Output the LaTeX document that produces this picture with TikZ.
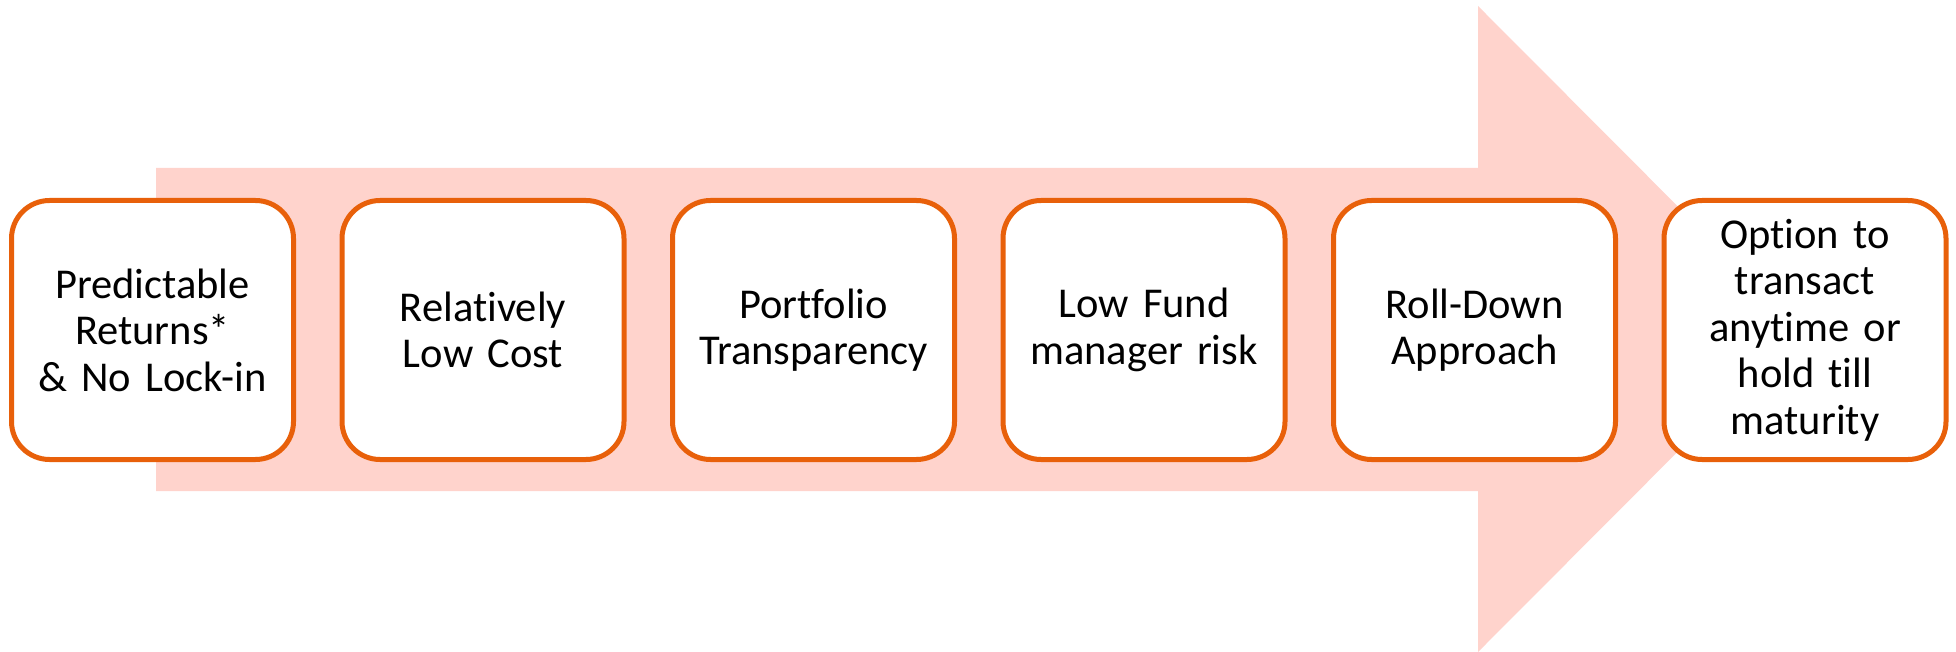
\documentclass[tikz,border=0pt]{standalone}
\usepackage{fontspec}
\setmainfont{Carlito}[Ligatures={NoCommon}]
\definecolor{boxorange}{HTML}{E8600A}
\definecolor{arrowfill}{HTML}{FFD3CC}
\tikzset{
  stepbox/.style={rectangle, draw=boxorange, line width=5pt, fill=white,
    rounded corners=38pt, minimum width=282pt, minimum height=259pt,
    align=center, inner sep=4pt, text width=274pt,
    font=\fontsize{42.5}{46.5}\selectfont},
}
\begin{document}
\begin{tikzpicture}[x=1pt,y=-1pt]
\useasboundingbox (0,0) rectangle (1956,652);
\fill[arrowfill] (156,168) -- (1478,168) -- (1478,6) -- (1800,329) -- (1478,652) -- (1478,491) -- (156,491) -- cycle;
\node[stepbox] (b1) at (152.5,330) {Predictable\\Returns*\\\& No Lock-in};
\node[stepbox] (b2) at (483,330) {Relatively\\Low Cost};
\node[stepbox] (b3) at (813.5,330) {Portfolio\\Transparency};
\node[stepbox] (b4) at (1144,330) {Low Fund\\manager risk};
\node[stepbox] (b5) at (1474.5,330) {Roll-Down\\Approach};
\node[stepbox] (b6) at (1805,330) {Option to\\transact\\anytime or\\hold till\\maturity};
\end{tikzpicture}
\end{document}
